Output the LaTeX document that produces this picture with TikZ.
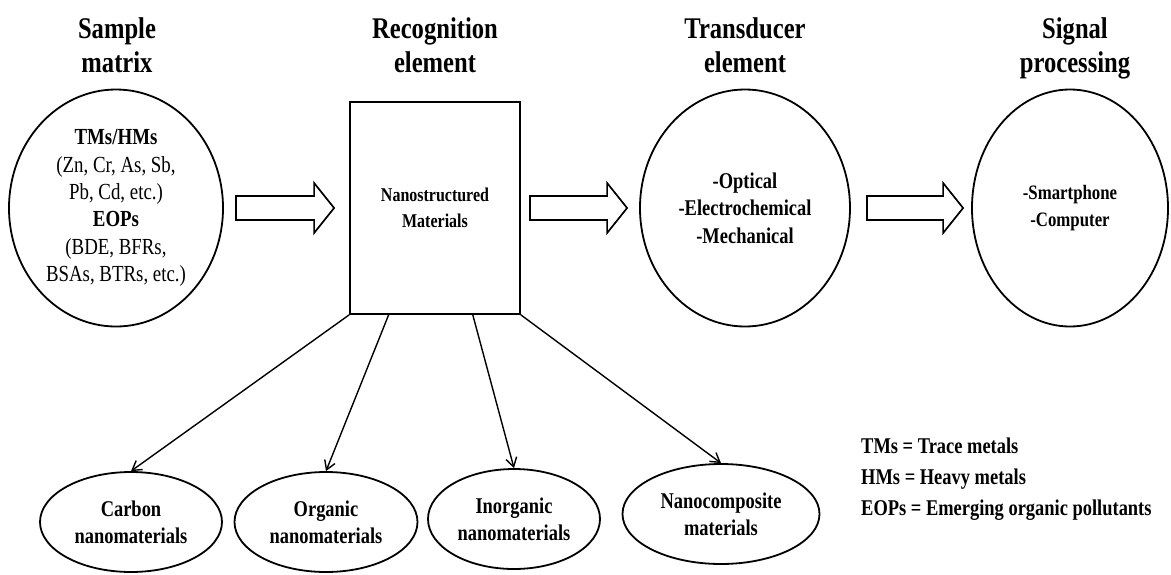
\documentclass[tikz,border=0pt]{standalone}
\usepackage{fontspec}
\setmainfont{Liberation Serif}[FakeStretch=0.82]
\usetikzlibrary{shapes.geometric,arrows.meta,calc}
\begin{document}
\begin{tikzpicture}[x=1pt,y=-1pt,
 title/.style={font=\bfseries\fontsize{30}{34}\selectfont, align=center, inner sep=0pt, anchor=north},
 bigell/.style={ellipse, draw, line width=1.8pt, inner sep=0pt, align=center},
 smallell/.style={ellipse, draw, line width=1.8pt, inner sep=0pt, align=center, font=\bfseries\fontsize{22.5}{27}\selectfont},
 innertext/.style={font=\bfseries\fontsize{22.5}{27.5}\selectfont},
 conn/.style={line width=1.4pt, -{Straight Barb[length=9pt,width=11pt,line width=1.4pt]}},
 blockarrow/.style={draw, line width=1.7pt, line join=miter, to path={let \p1=(\tikztostart), \p2=(\tikztotarget) in (\x1,\y1+12pt) -- (\x2-20pt,\y1+12pt) -- (\x2-20pt,\y1+25pt) -- (\x2,\y1) -- (\x2-20pt,\y1-25pt) -- (\x2-20pt,\y1-12pt) -- (\x1,\y1-12pt) -- cycle}}
]
\useasboundingbox (0,0) rectangle (1171,574);

\node[title] (t1) at (117,17) {Sample\\matrix};
\node[title] (t2) at (435,17) {Recognition\\element};
\node[title] (t3) at (745,17) {Transducer\\element};
\node[title] (t4) at (1075,17) {Signal\\processing};

\node[bigell, minimum width=214, minimum height=237, font=\fontsize{23}{27.4}\selectfont] (sample) at (116,208)
 {\textbf{TMs/HMs}\\(Zn, Cr, As, Sb,\\Pb, Cd, etc.)\\\textbf{EOPs}\\(BDE, BFRs,\\BSAs, BTRs, etc.)};
\node[draw, line width=1.8pt, minimum width=170, minimum height=212, align=center, font=\bfseries\fontsize{19.5}{26}\selectfont] (rec) at (435,208)
 {Nanostructured\\Materials};
\node[bigell, minimum width=210, minimum height=237, innertext] (trans) at (745,208)
 {-Optical\\-Electrochemical\\-Mechanical};
\node[bigell, minimum width=196, minimum height=237, font=\bfseries\fontsize{20.5}{27}\selectfont] (sig) at (1070,208)
 {-Smartphone\\-Computer};

\node[smallell, minimum width=182, minimum height=100] (carbon) at (131,522) {Carbon\\nanomaterials};
\node[smallell, minimum width=183, minimum height=100] (organic) at (326,522) {Organic\\nanomaterials};
\node[smallell, minimum width=172, minimum height=100] (inorg) at (514,519) {Inorganic\\nanomaterials};
\node[smallell, minimum width=197, minimum height=100] (nano) at (721,514) {Nanocomposite\\materials};

\node[anchor=north west, align=left, inner sep=0pt, font=\bfseries\fontsize{22.5}{31}\selectfont] (legend) at (861,438)
 {TMs = Trace metals\\HMs = Heavy metals\\EOPs = Emerging organic pollutants};

\coordinate (a1s) at ([xshift=12pt]sample.east);
\coordinate (a1e) at ([xshift=-15pt]rec.west);
\coordinate (a2s) at ([xshift=9pt]rec.east);
\coordinate (a2e) at ([xshift=-12pt]trans.west);
\coordinate (a3s) at ([xshift=16pt]trans.east);
\coordinate (a3e) at ([xshift=-8pt]sig.west);
\draw[blockarrow] (a1s) to (a1e);
\draw[blockarrow] (a2s) to (a2e);
\draw[blockarrow] (a3s) to (a3e);

\draw[conn] (rec.south west) -- (carbon.north);
\draw[conn] ($(rec.south west)!0.23!(rec.south east)$) -- (organic.north);
\draw[conn] ($(rec.south west)!0.72!(rec.south east)$) -- (inorg.north);
\draw[conn] (rec.south east) -- (nano.north);
\end{tikzpicture}
\end{document}
